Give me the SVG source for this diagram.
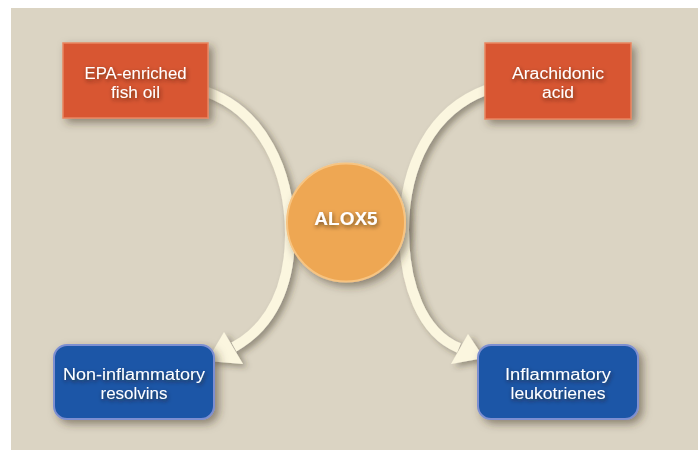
<svg xmlns="http://www.w3.org/2000/svg" width="698" height="450" viewBox="0 0 698 450">
<defs>
<filter id="sh" x="-20%" y="-20%" width="150%" height="150%"><feDropShadow dx="4" dy="4" stdDeviation="4" flood-color="#3a3020" flood-opacity="0.5"/></filter>
<filter id="ash" x="-30%" y="-30%" width="160%" height="160%"><feDropShadow dx="4" dy="3" stdDeviation="3" flood-color="#3a3020" flood-opacity="0.45"/></filter>
<filter id="tsh" x="-20%" y="-50%" width="140%" height="200%"><feDropShadow dx="1" dy="2" stdDeviation="2" flood-color="#2a1a10" flood-opacity="0.65"/></filter>
</defs>
<style>
.bg{fill:#dbd4c3}
.src{fill:#d85630;stroke:#e98660;stroke-width:1.5}
.dst{fill:#1f56a7;stroke:#7d8fd1;stroke-width:2}
.hub{fill:#eea752;stroke:#f7c482;stroke-width:2}
.lbl{font-family:"Liberation Sans",Arial,sans-serif;font-size:16px;fill:#ffffff;text-anchor:middle}
.hubl{font-family:"Liberation Sans",Arial,sans-serif;font-size:19px;font-weight:bold;fill:#ffffff;text-anchor:middle}
.conn{fill:none;stroke:#fbf6df;stroke-width:10}
.head{fill:#fbf6df}
</style>
<rect class="bg" x="11" y="8" width="687" height="442"/>
<g id="connectors" filter="url(#ash)">
<path class="conn" d="M 207 92 C 262 112, 290 170, 290 235 C 290 285, 272 326, 234 347"/>
<polygon class="head" points="207,361 224,332 243,364"/>
<path class="conn" d="M 486 90 C 432 110, 404 165, 404 230 C 404 285, 422 333, 459 348"/>
<polygon class="head" points="484,358 468,334 451,364"/>
</g>
<g id="epa">
<rect class="src" x="63" y="43" width="145" height="75" filter="url(#sh)"/>
<text class="lbl" x="135.5" y="78.5" textLength="102" lengthAdjust="spacingAndGlyphs" filter="url(#tsh)">EPA-enriched</text>
<text class="lbl" x="135.5" y="97.5" textLength="49" lengthAdjust="spacingAndGlyphs" filter="url(#tsh)">fish oil</text>
</g>
<g id="arachidonic">
<rect class="src" x="485" y="43" width="146" height="76" filter="url(#sh)"/>
<text class="lbl" x="558" y="78.5" textLength="92" lengthAdjust="spacingAndGlyphs" filter="url(#tsh)">Arachidonic</text>
<text class="lbl" x="558" y="97.5" textLength="32" lengthAdjust="spacingAndGlyphs" filter="url(#tsh)">acid</text>
</g>
<g id="alox5">
<circle class="hub" cx="346" cy="222.5" r="59" filter="url(#sh)"/>
<text class="hubl" x="346" y="225" filter="url(#tsh)">ALOX5</text>
</g>
<g id="resolvins">
<rect class="dst" x="54" y="345" width="160" height="74" rx="13" filter="url(#sh)"/>
<text class="lbl" x="134" y="379.5" textLength="142" lengthAdjust="spacingAndGlyphs" filter="url(#tsh)">Non-inflammatory</text>
<text class="lbl" x="134" y="398.5" textLength="67" lengthAdjust="spacingAndGlyphs" filter="url(#tsh)">resolvins</text>
</g>
<g id="leukotrienes">
<rect class="dst" x="478" y="345" width="160" height="74" rx="13" filter="url(#sh)"/>
<text class="lbl" x="558" y="379.5" textLength="106" lengthAdjust="spacingAndGlyphs" filter="url(#tsh)">Inflammatory</text>
<text class="lbl" x="558" y="398.5" textLength="95" lengthAdjust="spacingAndGlyphs" filter="url(#tsh)">leukotrienes</text>
</g>
</svg>
